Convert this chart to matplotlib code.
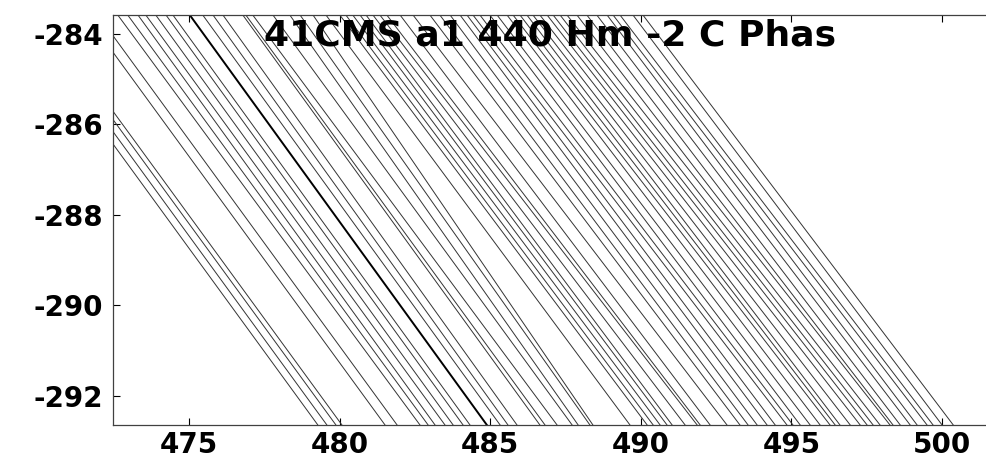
import matplotlib
matplotlib.use("Agg")
import matplotlib.pyplot as plt

# x where each line crosses the top (y_top) and the bottom (y_bottom) of the plot
x_top = [469.36, 469.66, 469.95, 470.15, 471.58, 471.98,
         472.64, 472.97, 473.31, 473.57, 473.90, 474.24, 474.47, 475.03,
         475.46, 475.80, 476.13, 476.79, 476.89, 477.12, 477.79, 478.35,
         478.69, 479.12, 479.55, 480.01, 480.21, 480.44, 480.68, 480.88,
         481.11, 481.34, 481.57, 482.01, 482.44, 483.00, 483.33, 483.67,
         484.00, 484.23, 484.43, 484.66, 484.99, 485.23, 485.56, 485.76,
         485.99, 486.22, 486.42, 486.65, 486.89, 487.09, 487.32, 487.55,
         487.88, 488.21, 488.54, 488.88, 489.08, 489.31, 489.74, 490.07]
x_bottom = [479.28, 479.58, 479.88, 480.08, 481.51, 481.91,
            482.67, 482.94, 483.17, 483.50, 483.77, 484.10, 484.33, 484.89,
            485.33, 485.59, 485.89, 486.65, 486.82, 487.22, 487.72, 487.92,
            488.31, 488.41, 489.64, 490.21, 490.41, 490.64, 490.87, 491.04,
            491.47, 491.87, 491.97, 492.30, 492.86, 493.29, 493.56, 493.86,
            494.19, 494.46, 494.85, 495.05, 495.29, 495.62, 495.95, 496.28,
            496.45, 496.61, 496.95, 497.28, 497.51, 497.71, 497.94, 498.27,
            498.37, 498.61, 498.94, 499.17, 499.50, 499.70, 500.00, 500.37]
y_top = -283.59
y_bottom = -292.65
thick_line = 13  # the one darker line

x_ticks = [475, 480, 485, 490, 495, 500]
y_ticks = [-292, -290, -288, -286, -284]
title = "41CMS a1 440 Hm -2 C Phas"


def main():
    plt.rcParams['font.family'] = ['DejaVu Sans']
    plt.rcParams['axes.unicode_minus'] = False
    fig = plt.figure(figsize=(9.86, 4.57), dpi=100)
    # right edge of the box runs just past the picture, as in the original
    ax = fig.add_axes([0.1146, 0.070, 0.8904, 0.897])

    for i, (xt, xb) in enumerate(zip(x_top, x_bottom)):
        if i == thick_line:
            ax.plot([xt, xb], [y_top, y_bottom], color='k', lw=1.4)
        else:
            ax.plot([xt, xb], [y_top, y_bottom], color='0.2', lw=0.7)

    ax.set_xlim(472.48, 501.62)
    ax.set_ylim(y_bottom, y_top)
    ax.set_xticks(x_ticks)
    ax.set_yticks(y_ticks)
    ax.tick_params(direction='in', length=5, width=0.8, labelsize=20,
                   top=True, right=False)
    ax.tick_params(axis='x', pad=4)
    ax.tick_params(axis='y', pad=7)
    for lab in ax.get_xticklabels() + ax.get_yticklabels():
        lab.set_fontweight('bold')
    for s in ax.spines.values():
        s.set_linewidth(0.9)
        s.set_color('0.25')

    ax.text(0.4978, 0.949, title, transform=ax.transAxes, ha='center',
            va='center', fontsize=26, fontweight='bold', color='k')

    fig.savefig('out.png', dpi=100)
    plt.close(fig)


if __name__ == "__main__":
    main()
